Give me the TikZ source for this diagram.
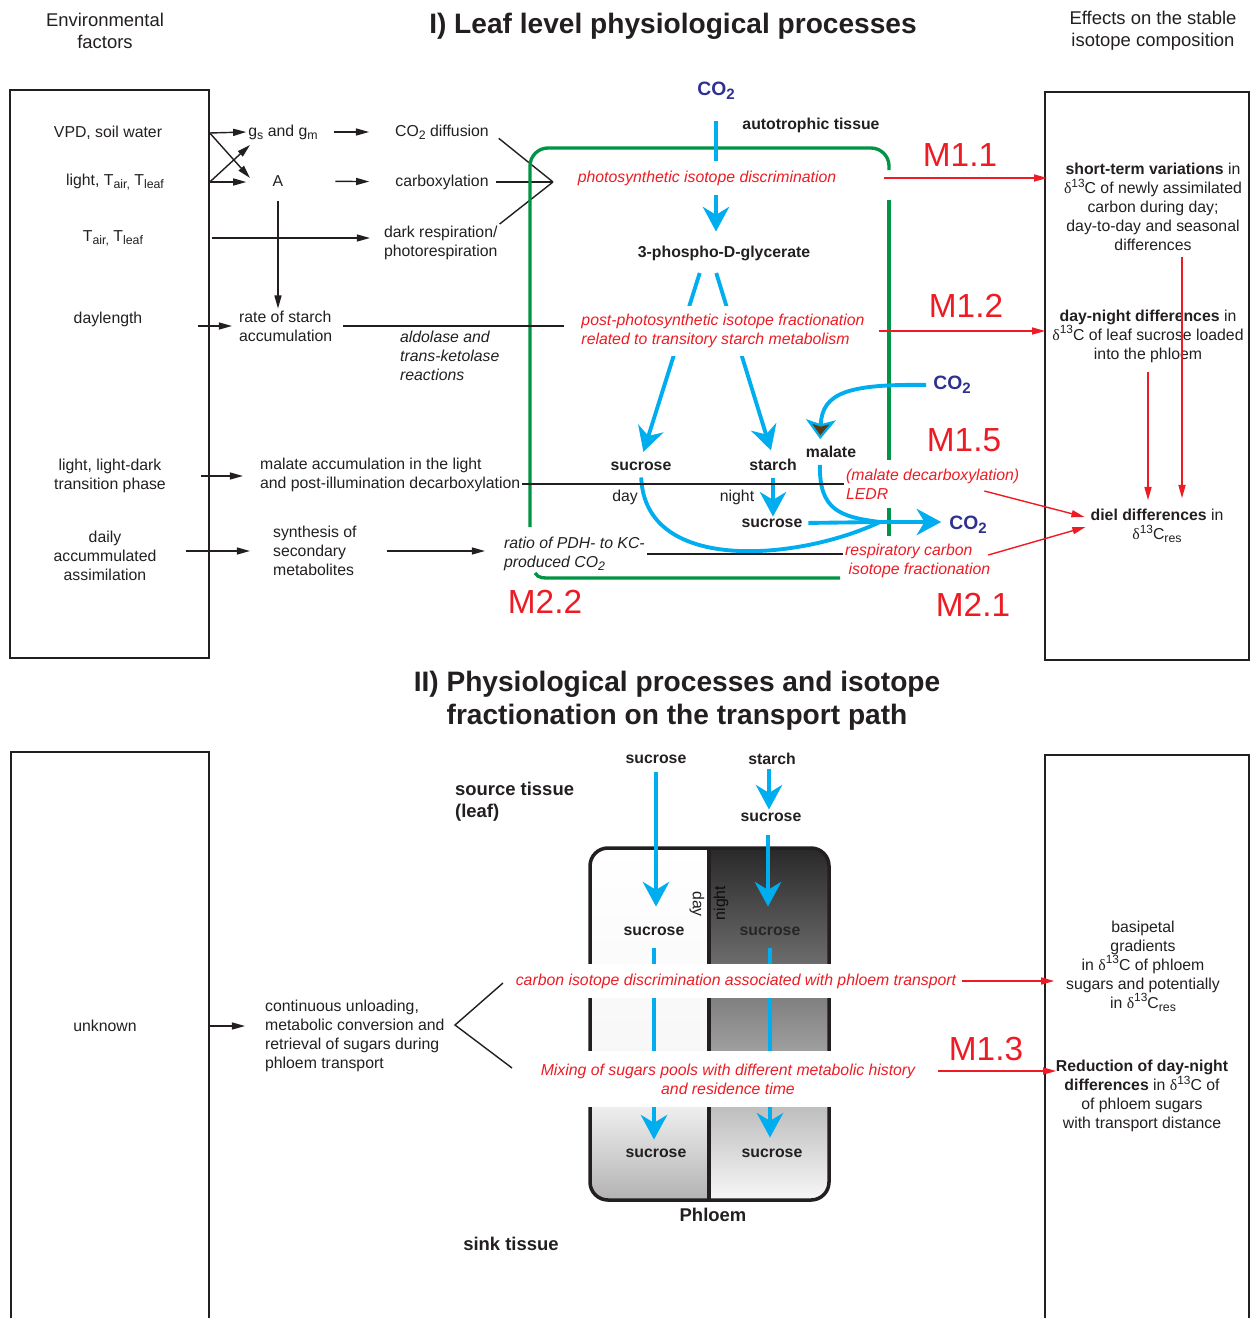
\documentclass[tikz,border=0pt]{standalone}
\usepackage{fontspec}
\setmainfont{Liberation Sans}
\newfontfamily\grk{Liberation Serif}
\usetikzlibrary{arrows.meta,calc}

\definecolor{txt}{HTML}{231F20}
\definecolor{mred}{HTML}{ED1C24}
\definecolor{mcyan}{HTML}{00AEEF}
\definecolor{mblue}{HTML}{2E3192}
\definecolor{mgreen}{HTML}{009444}
\definecolor{mbrown}{HTML}{603913}

\newcommand{\lo}[1]{\raisebox{-0.35ex}{\scalebox{0.78}{#1}}}
\newcommand{\up}[1]{\raisebox{0.75ex}{\scalebox{0.75}{#1}}}
\newcommand{\dC}{{\grk δ}\up{13}C}

\tikzset{
  every node/.style={font=\fontsize{9}{10.8}\selectfont, text=txt, inner sep=1pt},
  lbl/.style={font=\fontsize{9}{10.8}\selectfont\bfseries},
  bigb/.style={font=\fontsize{10.5}{12.6}\selectfont\bfseries},
  hdr/.style={font=\fontsize{10.5}{12.5}\selectfont, align=center},
  ttl/.style={font=\fontsize{16}{19}\selectfont\bfseries, align=center},
  itx/.style={font=\fontsize{9}{10.8}\selectfont\itshape},
  rtxt/.style={text=mred, font=\fontsize{9}{10.8}\selectfont\itshape},
  mtag/.style={text=mred, font=\fontsize{19}{22}\selectfont},
  cotwo/.style={text=mblue, font=\fontsize{11}{13}\selectfont\bfseries},
  panel/.style={draw=txt, line width=0.9pt, inner sep=0pt},
  ln/.style={draw=txt, line width=0.8pt},
  blk/.style={ln, -{Triangle[length=7.5pt,width=4pt]}},
  rarr/.style={draw=mred, line width=0.8pt, -{Triangle[length=7.5pt,width=4pt]}},
  blu/.style={draw=mcyan, line width=2.2pt},
  bigtip/.style={-{Stealth[length=14pt,width=15pt,inset=4.5pt]}},
  grn/.style={draw=mgreen, line width=1.9pt},
}

\begin{document}
\begin{tikzpicture}[x=0.02cm,y=-0.02cm]
\useasboundingbox (0,0) rectangle (1250,1318);

% headings
\node[hdr] (envhd) at (105,31) {Environmental\\factors};
\node[hdr] (effhd) at (1153,31) {Effects on the stable\\isotope composition};
\node[ttl] (ttla) at (673,26) {I) Leaf level physiological processes};
\node[ttl] (ttlb) at (677,701) {II) Physiological processes and isotope\\fractionation on the transport path};

% side panels
\node[panel, minimum width=3.98cm, minimum height=11.36cm] (envbox) at (109.5,374) {};
\node[panel, minimum width=4.08cm, minimum height=11.36cm] (effbox) at (1147,376) {};
\node[panel, minimum width=3.96cm, minimum height=11.76cm] (unkbox) at (110,1046) {};
\node[panel, minimum width=4.08cm, minimum height=11.7cm] (resbox) at (1147,1047.5) {};

% ---- I) leaf level ----
\node (vpd) at (108,133) {VPD, soil water};
\node (light) at (115,182) {light, T\lo{air,} T\lo{leaf}};
\node (temp) at (113,238) {T\lo{air,} T\lo{leaf}};
\node (dayl) at (108,319) {daylength};
\node[align=center] (trans) at (110,476) {light, light-dark\\transition phase};
\node[align=center] (daily) at (105,556) {daily\\accummulated\\assimilation};

\node (gsgm) at (283,132) {g\lo{s} and g\lo{m}};
\node (A) at (278,181) {A};
\node (co2d) at (442,132) {CO\lo{2} diffusion};
\node (carb) at (442,182) {carboxylation};
\node[anchor=west, align=left] (resp) at (382,243) {dark respiration/\\photorespiration};
\node[anchor=west, align=left] (starch) at (237,326) {rate of starch\\accumulation};
\node[itx, anchor=west, align=left] (aldo) at (398,356) {aldolase and\\trans-ketolase\\reactions};
\node[anchor=west, align=left] (malacc) at (258,475) {malate accumulation in the light\\and post-illumination decarboxylation};
\node[anchor=west, align=left] (synth) at (271,551) {synthesis of\\secondary\\metabolites};
\node[itx, anchor=west, align=left] (ratio) at (502,554) {ratio of PDH- to KC-\\produced CO\lo{2}};

\coordinate (toA) at (250,178);
\coordinate (togs) at (250,145);
\coordinate (conv) at (553,182);

\draw[blk] (envbox.east |- vpd) -- (gsgm.west);
\draw[blk] (envbox.east |- vpd) -- (toA);
\draw[blk] (envbox.east |- light) -- (gsgm.west |- light);
\draw[blk] (envbox.east |- light) -- (togs);
\draw[blk, shorten <=1pt, shorten >=0.24cm] (envbox.east |- temp) -- (resp.west |- temp);
\draw[blk, shorten <=0.28cm, shorten >=0.48cm] (gsgm) -- (co2d);
\draw[blk, shorten <=1cm, shorten >=0.48cm] (A) -- (carb);
\draw[blk, shorten <=0.24cm] (A.south) -- (A.south |- starch.north);
\draw[blk, shorten <=-0.24cm, shorten >=0.1cm] (envbox.east |- starch.west) -- (starch.west);
\draw[blk, shorten <=-0.18cm, shorten >=0.3cm] (envbox.east |- trans) -- (malacc.west |- trans);
\draw[blk, shorten <=-0.48cm, shorten >=0.42cm] (envbox.east |- synth) -- (synth.west);
\draw[blk, shorten <=0.56cm, shorten >=0.34cm] (synth.east) -- (ratio.west |- synth.east);

\draw[ln, shorten <=0.2cm] (co2d.east) -- (conv);
\draw[ln, shorten <=0.1cm] (carb.east) -- (conv);
\draw[ln] (resp.north east) -- (conv);

% autotrophic tissue
\draw[grn, rounded corners=0.36cm] (530,527) -- (530,148) -- (889,148) -- (889,170);
\draw[grn] (889,200) -- (889,460) (889,508) -- (889,536);
\draw[grn] (535,573) to[out=-60,in=180] (551,578) -- (840,578);

\node[cotwo] (co2a) at (716,91) {CO\lo{2}};
\node[lbl] (auto) at (811,125) {autotrophic tissue};
\node[lbl] (pga) at (724,253) {3-phospho-D-glycerate};
\node[lbl] (suca) at (641,466) {sucrose};
\node[lbl] (stara) at (773,465) {starch};
\node[lbl] (mal) at (831,452) {malate};
\node (day) at (625,497) {day};
\node (night) at (737,497) {night};
\node[lbl] (sucb) at (772,523) {sucrose};
\node[cotwo] (co2b) at (952,385) {CO\lo{2}};
\node[cotwo] (co2c) at (968,525) {CO\lo{2}};
\coordinate (jn) at (880,522);

\draw[blu, bigtip, shorten <=0.38cm, shorten >=0.24cm] (co2a.south) -- (co2a.south |- pga.north);
\draw[blu, bigtip, shorten <=0.22cm, shorten >=0.16cm] ([xshift=-0.42cm]pga.south) -- (suca.north);
\draw[blu, bigtip, shorten <=0.22cm, shorten >=0.14cm] ([xshift=-0.22cm]pga.south) -- (stara.north);
\draw[blu, bigtip, shorten <=0.1cm] (stara.south) -- (stara.south |- sucb.north);
\draw[blu, -{Stealth[length=11pt,width=17pt,inset=2.5pt,line width=1.3pt,fill=mbrown]}, shorten <=0.1cm, shorten >=0.1cm]
  (co2b.west) .. controls (850,384) and (822,392) .. ([xshift=-0.22cm]mal.north);
\draw[blu, shorten <=0.1cm] (suca.south) .. controls (645,575) and (800,560) .. (jn);
\draw[blu, shorten <=0.1cm] ([xshift=-0.22cm]mal.south) .. controls (819,510) and (840,517) .. (jn);
\draw[blu, shorten <=0.08cm] (sucb.east) -- (jn);
\draw[blu, bigtip, shorten >=0.12cm] (jn) -- (jn -| co2c.west);

\node[rtxt, fill=white, inner ysep=5.5pt] (photo) at (707,178) {photosynthetic isotope discrimination};
\node[rtxt, fill=white, inner ysep=4.5pt, align=left] (post) at (723,331) {post-photosynthetic isotope fractionation\\related to transitory starch metabolism};
\node[rtxt, anchor=west, align=left] (ledr) at (844,484) {(malate decarboxylation)\\LEDR};
\node[rtxt, anchor=west, align=left] (respc) at (843,561) {respiratory carbon\\\hspace{2pt}isotope fractionation};

\draw[ln, shorten <=0.17cm, shorten >=0.3cm] (starch.east) -- (post.west |- starch.east);
\draw[ln] (malacc.east |- ledr.west) -- (ledr.west);
\draw[ln] (ratio.east) -- (respc.west |- ratio.east);

\node[align=center] (st) at (1153,207) {\textbf{short-term variations} in\\\dC{} of newly assimilated\\carbon during day;\\day-to-day and seasonal\\differences};
\node[align=center] (dn) at (1148,336) {\textbf{day-night differences} in\\\dC{} of leaf sucrose loaded\\into the phloem};
\node[align=center] (diel) at (1157,526) {\textbf{diel differences} in\\{\grk δ}\up{13}C\lo{res}};

\draw[rarr, shorten <=0.92cm, shorten >=-0.06cm] (photo.east) -- (effbox.west |- photo.east);
\draw[rarr, shorten <=0.24cm, shorten >=-0.02cm] (post.east) -- (effbox.west |- post.east);
\draw[rarr] ($(ledr.east)+(-37,7)$) -- ($(diel.west)+(-4,-9)$);
\draw[rarr] ($(respc.east)+(-4,-6)$) -- ($(diel.west)+(-3,1)$);
\coordinate (stx) at ($(st.south)+(29,0)$);
\draw[rarr, shorten <=0.16cm, shorten >=0.14cm] (dn.south) -- (dn.south |- diel.north);
\draw[rarr, shorten <=0.08cm, shorten >=0.18cm] (stx) -- (stx |- diel.north);

\node[mtag] (m11) at (960,155) {M1.1};
\node[mtag] (m12) at (966,306) {M1.2};
\node[mtag] (m15) at (964,440) {M1.5};
\node[mtag] (m21) at (973,605) {M2.1};
\node[mtag] (m22) at (545,602) {M2.2};

% ---- II) transport path ----
\node[bigb, anchor=west, align=left] (src) at (453,802) {source tissue\\(leaf)};
\node[lbl] (sucp) at (656,759) {sucrose};
\node[lbl] (starp) at (772,759) {starch};
\node[lbl] (sucq) at (771,817) {sucrose};

\begin{scope}
  \clip[rounded corners=0.36cm] (590,848) rectangle (829,1200);
  \shade[top color=white, bottom color=black!3] (590,848) rectangle (709,1050);
  \shade[top color=black!6, bottom color=black!30] (590,1105) rectangle (709,1200);
  \shade[top color=black!84, bottom color=black!38] (709,848) rectangle (829,1050);
  \shade[top color=black!26, bottom color=black!3] (709,1105) rectangle (829,1200);
\end{scope}
\draw[draw=txt, line width=2pt, rounded corners=0.36cm] (590,848) rectangle (829,1200);
\draw[draw=txt, line width=2pt] (709,848) -- (709,1200);

\node[lbl] (sucl) at (654,931) {sucrose};
\node[lbl, text=black!85] (sucr) at (770,931) {sucrose};
\node[rotate=-90] (dayp) at (697,904) {day};
\node[rotate=90, text=black!95] (nightp) at (721,903) {night};
\node[lbl] (sucl2) at (656,1153) {sucrose};
\node[lbl] (sucr2) at (772,1153) {sucrose};
\node[bigb] (phl) at (713,1215) {Phloem};
\node[bigb] (sink) at (511,1244) {sink tissue};

\draw[blu, bigtip, shorten <=0.14cm, shorten >=0.36cm] (sucp.south) -- (sucp.south |- sucl.north);
\draw[blu, bigtip, shorten <=0.04cm, shorten >=0.02cm] ([xshift=-0.06cm]starp.south) -- ([xshift=-0.06cm]starp.south |- sucq.north);
\draw[blu, bigtip, shorten <=0.24cm, shorten >=0.36cm] ([xshift=-0.06cm]sucq.south) -- ([xshift=-0.06cm]sucq.south |- sucr.north);
\draw[blu, bigtip, shorten <=0.22cm, shorten >=0.14cm] (sucl.south) -- (sucl.south |- sucl2.north);
\draw[blu, bigtip, shorten <=0.22cm, shorten >=0.18cm] (sucr.south) -- (sucr.south |- sucr2.north);

\node[rtxt, fill=white, inner ysep=5.6pt] (cid) at (736,981) {carbon isotope discrimination associated with phloem transport};
\node[rtxt, fill=white, inner ysep=7pt, align=center] (mix) at (728,1079) {Mixing of sugars pools with different metabolic history\\and residence time};

\node (unk) at (105,1026) {unknown};
\node[anchor=west, align=left] (cont) at (263,1035.5) {continuous unloading,\\metabolic conversion and\\retrieval of sugars during\\phloem transport};
\draw[blk, shorten >=0.36cm] (unkbox.east |- unk) -- (cont.west |- unk);
\coordinate (apex) at (455,1025);
\coordinate (upr) at (503,983);
\coordinate (lwr) at (512,1068);
\draw[ln] (upr) -- (apex) -- (lwr);

\node[align=center] (bas) at (1143,966) {basipetal\\gradients\\in \dC{} of phloem\\sugars and potentially\\in {\grk δ}\up{13}C\lo{res}};
\node[align=center] (redn) at (1142,1096) {\textbf{Reduction of day-night}\\\textbf{differences} in \dC{} of\\of phloem sugars\\with transport distance};

\draw[rarr, shorten <=0.08cm, shorten >=-0.2cm] (cid.east) -- (resbox.west |- cid.east);
\draw[rarr] ($(mix.east)+(21,-8)$) -- ($(resbox.west |- mix.east)+(12,-8)$);
\node[mtag] (m13) at (986,1049) {M1.3};

\end{tikzpicture}
\end{document}
